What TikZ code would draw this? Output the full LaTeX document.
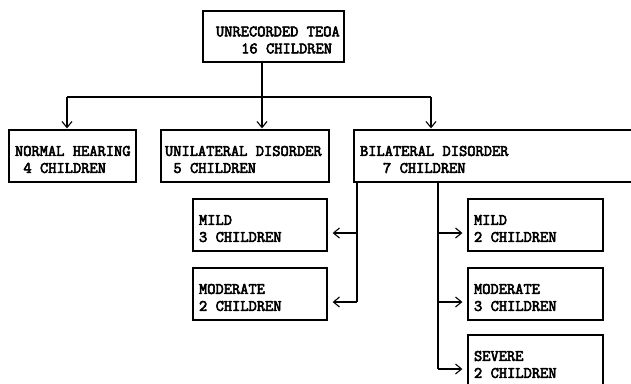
\documentclass[tikz,border=0pt]{standalone}
\usepackage{fontspec}
\setmonofont{Latin Modern Mono}[BoldFont={Latin Modern Mono},BoldFeatures={FakeBold=3.5}]
\usetikzlibrary{arrows.meta,calc}
\newcommand{\topstrut}{\rule{0pt}{17pt}}
\newcommand{\bsp}{\hspace*{8.4pt}}
\begin{document}
\begin{tikzpicture}[x=1pt,y=-1pt,
  box/.style={draw, line width=1.3pt, inner xsep=6pt, inner ysep=0pt, align=left,
    font=\ttfamily\bfseries\fontsize{16}{17}\selectfont, minimum height=52pt},
  conn/.style={line width=1.2pt},
  arr/.style={conn, -{Straight Barb[length=6pt,width=10pt,line width=1.1pt]}}]
\useasboundingbox (0,0) rectangle (631,383);
\clip (0,0) rectangle (631,383);
\fill[white] (0,0) rectangle (631,383);
% boxes
\node[box, minimum height=51pt, inner xsep=3pt, text width=135pt] (top) at (273.5,36.5)
  {\topstrut\hspace*{10pt}UNRECORDED\bsp TEOA\\\hspace*{35.2pt}16\bsp CHILDREN};
\node[box, text width=115pt] (nh) at (72.5,156)
  {\topstrut NORMAL\bsp HEARING\\\bsp 4\bsp CHILDREN};
\node[box, inner xsep=4pt, text width=160pt] (uni) at (245,156)
  {\topstrut UNILATERAL\bsp DISORDER\\\bsp 5\bsp CHILDREN};
\node[box, text width=274pt] (bi) at (497,156)
  {\topstrut BILATERAL\bsp DISORDER\\\hspace*{23pt}7\bsp CHILDREN};
\node[box, text width=122pt] (umild) at (260,225) {\topstrut MILD\\3\bsp CHILDREN};
\node[box, text width=122pt] (umod) at (260,294) {\topstrut MODERATE\\2\bsp CHILDREN};
\node[box, text width=123pt] (bmild) at (535.5,225) {\topstrut MILD\\2\bsp CHILDREN};
\node[box, text width=123pt] (bmod) at (535.5,294) {\topstrut MODERATE\\3\bsp CHILDREN};
\node[box, text width=123pt] (bsev) at (535.5,361) {\topstrut SEVERE\\2\bsp CHILDREN};
% top tree
\coordinate (j) at (262,97);
\coordinate (hl) at (67,97);
\coordinate (hr) at (431,97);
\draw[conn] (top.south -| j) -- (j);
\draw[conn] (hl) -- (hr);
\draw[arr, shorten >=1pt] (hl) -- (hl |- nh.north);
\draw[arr, shorten >=1pt] (j) -- (j |- uni.north);
\draw[arr, shorten >=1pt] (hr) -- (hr |- bi.north);
% unilateral children
\coordinate (uv) at (357,182);
\draw[conn] (uv) -- (uv |- {$(umod.east)+(0,8)$});
\draw[arr, shorten >=5pt] (uv |- {$(umild.east)+(0,8)$}) -- ($(umild.east)+(0,8)$);
\draw[arr, shorten >=5pt] (uv |- {$(umod.east)+(0,8)$}) -- ($(umod.east)+(0,8)$);
% bilateral children
\coordinate (bv) at (438,182);
\draw[conn] (bv) -- (bv |- {$(bsev.west)+(0,8)$});
\draw[arr, shorten >=5pt] (bv |- {$(bmild.west)+(0,8)$}) -- ($(bmild.west)+(0,8)$);
\draw[arr, shorten >=5pt] (bv |- {$(bmod.west)+(0,8)$}) -- ($(bmod.west)+(0,8)$);
\draw[arr, shorten >=5pt] (bv |- {$(bsev.west)+(0,8)$}) -- ($(bsev.west)+(0,8)$);
\end{tikzpicture}
\end{document}
